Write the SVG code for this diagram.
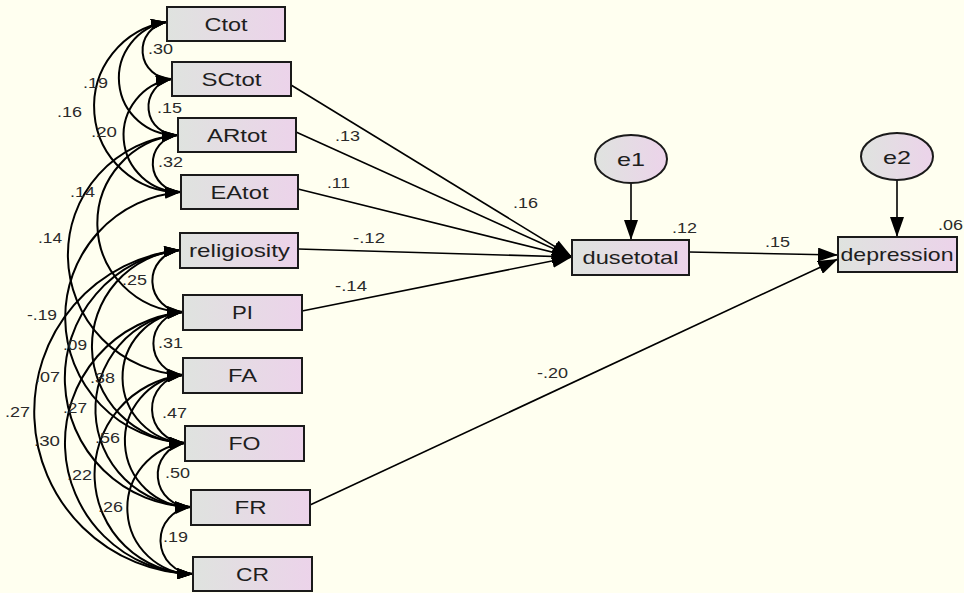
<svg xmlns="http://www.w3.org/2000/svg" width="964" height="593" viewBox="0 0 964 593">
<defs>
<linearGradient id="gb" x1="0" y1="0" x2="1" y2="0">
<stop offset="0" stop-color="#dfe3df"/>
<stop offset="1" stop-color="#ecd3ea"/>
</linearGradient>
<marker id="ch" viewBox="0 0 16 11" refX="16" refY="5.5" markerWidth="16" markerHeight="11" markerUnits="userSpaceOnUse" orient="auto-start-reverse">
<path d="M0,0 L16,5.5 L0,11 z" fill="#000"/>
</marker>
<marker id="rh" viewBox="0 0 20 14" refX="20" refY="7" markerWidth="20" markerHeight="14" markerUnits="userSpaceOnUse" orient="auto">
<path d="M0,0 L20,7 L0,14 z" fill="#000"/>
</marker>
</defs>
<style>
.box{fill:url(#gb);stroke:#1a1a1a;stroke-width:2}
.nt{font-family:"Liberation Sans",Arial,sans-serif;font-size:19px;fill:#1e1e1e;text-anchor:middle}
.lb{font-family:"Liberation Sans",Arial,sans-serif;font-size:14px;fill:#2a2a2a}
.cov{fill:none;stroke:#000;stroke-width:2;marker-start:url(#ch);marker-end:url(#ch)}
.reg{fill:none;stroke:#000;stroke-width:1.6;marker-end:url(#rh)}
</style>
<rect x="0" y="0" width="964" height="593" fill="#fffff0"/>

<g id="connectors">
<path class="cov" d="M167,22 A28.66,28.66 0 0 0 172,79"/>
<path class="cov" d="M172,79 A28.21,28.21 0 0 0 178,135"/>
<path class="cov" d="M178,135 A28.6,28.6 0 0 0 181,192"/>
<path class="cov" d="M167,22 A56.86,56.86 0 0 0 178,135"/>
<path class="cov" d="M167,22 A85.47,85.47 0 0 0 181,192"/>
<path class="cov" d="M172,79 A56.81,56.81 0 0 0 181,192"/>
<path class="cov" d="M178,135 A88.71,88.71 0 0 0 183,312"/>
<path class="cov" d="M178,135 A120.27,120.27 0 0 0 183,375"/>
<path class="cov" d="M181,192 A125.77,125.77 0 0 0 185,443"/>
<path class="cov" d="M180,250 A31.1,31.1 0 0 0 183,312"/>
<path class="cov" d="M183,312 A31.56,31.56 0 0 0 183,375"/>
<path class="cov" d="M183,375 A34.08,34.08 0 0 0 185,443"/>
<path class="cov" d="M185,443 A32.2,32.2 0 0 0 191,507"/>
<path class="cov" d="M191,507 A33.58,33.58 0 0 0 193,574"/>
<path class="cov" d="M183,312 A65.64,65.64 0 0 0 185,443"/>
<path class="cov" d="M183,375 A66.25,66.25 0 0 0 191,507"/>
<path class="cov" d="M185,443 A65.75,65.75 0 0 0 193,574"/>
<path class="cov" d="M180,250 A96.73,96.73 0 0 0 185,443"/>
<path class="cov" d="M183,312 A97.78,97.78 0 0 0 191,507"/>
<path class="cov" d="M183,375 A99.83,99.83 0 0 0 193,574"/>
<path class="cov" d="M180,250 A128.88,128.88 0 0 0 191,507"/>
<path class="cov" d="M183,312 A131.36,131.36 0 0 0 193,574"/>
<path class="cov" d="M180,250 A162.45,162.45 0 0 0 193,574"/>

<path class="reg" d="M291,85 L572,257"/>
<path class="reg" d="M296,132 L572,257"/>
<path class="reg" d="M298,189 L572,257"/>
<path class="reg" d="M298,249 L572,257"/>
<path class="reg" d="M302,311 L572,257"/>
<path class="reg" d="M310,505 L838,259"/>
<path class="reg" d="M689,252 L838,255"/>
<path class="reg" d="M631,183 L631,240"/>
<path class="reg" d="M897,180 L897,237"/>

<g id="labels">
<text class="lb" x="148" y="54" textLength="25" lengthAdjust="spacingAndGlyphs">.30</text>
<text class="lb" x="83" y="88" textLength="25" lengthAdjust="spacingAndGlyphs">.19</text>
<text class="lb" x="57" y="117" textLength="25" lengthAdjust="spacingAndGlyphs">.16</text>
<text class="lb" x="91" y="137" textLength="26" lengthAdjust="spacingAndGlyphs">.20</text>
<text class="lb" x="157" y="113" textLength="25" lengthAdjust="spacingAndGlyphs">.15</text>
<text class="lb" x="158" y="167" textLength="25" lengthAdjust="spacingAndGlyphs">.32</text>
<text class="lb" x="70" y="197" textLength="25" lengthAdjust="spacingAndGlyphs">.14</text>
<text class="lb" x="38" y="243" textLength="24" lengthAdjust="spacingAndGlyphs">.14</text>
<text class="lb" x="122" y="285" textLength="25" lengthAdjust="spacingAndGlyphs">.25</text>
<text class="lb" x="27" y="320" textLength="30" lengthAdjust="spacingAndGlyphs">-.19</text>
<text class="lb" x="158" y="348" textLength="25" lengthAdjust="spacingAndGlyphs">.31</text>
<text class="lb" x="63" y="350" textLength="24" lengthAdjust="spacingAndGlyphs">.09</text>
<text class="lb" x="35" y="382" textLength="25" lengthAdjust="spacingAndGlyphs">.07</text>
<text class="lb" x="90" y="383" textLength="25" lengthAdjust="spacingAndGlyphs">.38</text>
<text class="lb" x="5" y="417" textLength="25" lengthAdjust="spacingAndGlyphs">.27</text>
<text class="lb" x="63" y="413" textLength="24" lengthAdjust="spacingAndGlyphs">.27</text>
<text class="lb" x="162" y="418" textLength="25" lengthAdjust="spacingAndGlyphs">.47</text>
<text class="lb" x="34" y="446" textLength="26" lengthAdjust="spacingAndGlyphs">.30</text>
<text class="lb" x="95" y="443" textLength="25" lengthAdjust="spacingAndGlyphs">.56</text>
<text class="lb" x="67" y="480" textLength="25" lengthAdjust="spacingAndGlyphs">.22</text>
<text class="lb" x="165" y="478" textLength="25" lengthAdjust="spacingAndGlyphs">.50</text>
<text class="lb" x="98" y="512" textLength="25" lengthAdjust="spacingAndGlyphs">.26</text>
<text class="lb" x="163" y="542" textLength="25" lengthAdjust="spacingAndGlyphs">.19</text>
<text class="lb" x="335" y="141" textLength="25" lengthAdjust="spacingAndGlyphs">.13</text>
<text class="lb" x="327" y="188" textLength="23" lengthAdjust="spacingAndGlyphs">.11</text>
<text class="lb" x="513" y="208" textLength="25" lengthAdjust="spacingAndGlyphs">.16</text>
<text class="lb" x="353" y="243" textLength="32" lengthAdjust="spacingAndGlyphs">-.12</text>
<text class="lb" x="335" y="291" textLength="32" lengthAdjust="spacingAndGlyphs">-.14</text>
<text class="lb" x="672" y="233" textLength="25" lengthAdjust="spacingAndGlyphs">.12</text>
<text class="lb" x="765" y="247" textLength="25" lengthAdjust="spacingAndGlyphs">.15</text>
<text class="lb" x="938" y="230" textLength="25" lengthAdjust="spacingAndGlyphs">.06</text>
<text class="lb" x="537" y="378" textLength="31" lengthAdjust="spacingAndGlyphs">-.20</text>
</g>
</g>

<g id="node-Ctot"><rect class="box" x="167" y="7" width="118" height="34"/><text class="nt" x="226" y="31" textLength="43" lengthAdjust="spacingAndGlyphs">Ctot</text></g>
<g id="node-SCtot"><rect class="box" x="172" y="62" width="119" height="34"/><text class="nt" x="231.5" y="86" textLength="60" lengthAdjust="spacingAndGlyphs">SCtot</text></g>
<g id="node-ARtot"><rect class="box" x="178" y="118" width="118" height="34"/><text class="nt" x="237" y="142" textLength="60" lengthAdjust="spacingAndGlyphs">ARtot</text></g>
<g id="node-EAtot"><rect class="box" x="181" y="175" width="117" height="34"/><text class="nt" x="239.5" y="199" textLength="58" lengthAdjust="spacingAndGlyphs">EAtot</text></g>
<g id="node-religiosity"><rect class="box" x="180" y="233" width="118" height="35"/><text class="nt" x="239.5" y="257" textLength="101" lengthAdjust="spacingAndGlyphs">religiosity</text></g>
<g id="node-PI"><rect class="box" x="183" y="295" width="119" height="35"/><text class="nt" x="242.5" y="319" textLength="21" lengthAdjust="spacingAndGlyphs">PI</text></g>
<g id="node-FA"><rect class="box" x="183" y="358" width="119" height="35"/><text class="nt" x="242.5" y="382" textLength="29" lengthAdjust="spacingAndGlyphs">FA</text></g>
<g id="node-FO"><rect class="box" x="185" y="426" width="119" height="35"/><text class="nt" x="244.5" y="450" textLength="32" lengthAdjust="spacingAndGlyphs">FO</text></g>
<g id="node-FR"><rect class="box" x="191" y="490" width="119" height="35"/><text class="nt" x="250.5" y="514" textLength="32" lengthAdjust="spacingAndGlyphs">FR</text></g>
<g id="node-CR"><rect class="box" x="193" y="557" width="119" height="34"/><text class="nt" x="252.5" y="581" textLength="33" lengthAdjust="spacingAndGlyphs">CR</text></g>
<g id="node-dusetotal"><rect class="box" x="572" y="240" width="117" height="35"/><text class="nt" x="630.5" y="264" textLength="96" lengthAdjust="spacingAndGlyphs">dusetotal</text></g>
<g id="node-depression"><rect class="box" x="838" y="237" width="119" height="35"/><text class="nt" x="897" y="261" textLength="113" lengthAdjust="spacingAndGlyphs">depression</text></g>
<g id="node-e1"><ellipse class="box" cx="631" cy="159" rx="36" ry="24"/><text class="nt" x="631" y="166" textLength="28" lengthAdjust="spacingAndGlyphs">e1</text></g>
<g id="node-e2"><ellipse class="box" cx="897" cy="156.5" rx="36" ry="23.5"/><text class="nt" x="897" y="163.5" textLength="28" lengthAdjust="spacingAndGlyphs">e2</text></g>
</svg>
